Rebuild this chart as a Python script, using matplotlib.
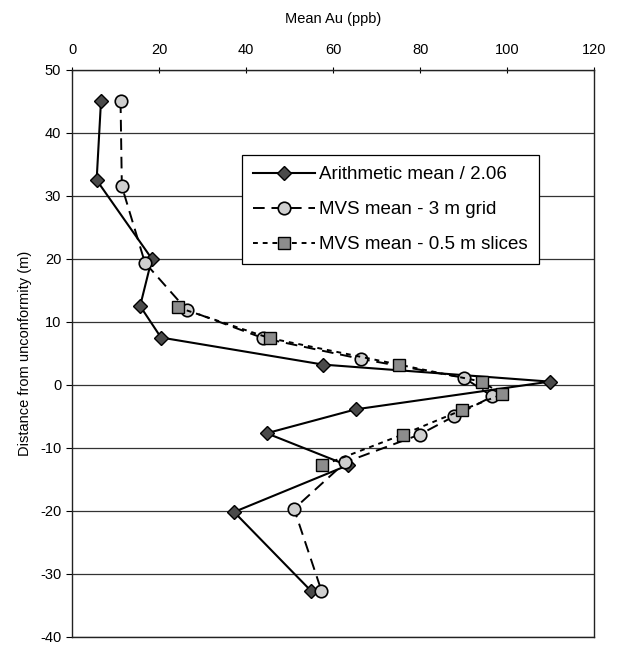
import matplotlib
matplotlib.use("Agg")
import matplotlib.pyplot as plt

plt.rcParams['font.family'] = ['Liberation Sans', 'DejaVu Sans']
plt.rcParams['axes.unicode_minus'] = False

# Arithmetic mean (scaled by 1/2.06)
arith_depth = [45, 32.5, 20, 12.5, 7.5, 3.2, 0.5, -3.9, -7.7, -12.8, -20.2, -32.8]
arith_au = [6.6, 5.6, 18.3, 15.6, 20.4, 57.7, 109.8, 65.2, 44.7, 63.3, 37.2, 55.0]

# MVS mean on a 3 m grid
grid_depth = [45, 31.5, 19.4, 11.9, 7.4, 4.1, 1.1, -1.85, -5.0, -7.9, -12.3, -19.7, -32.7]
grid_au = [11.1, 11.4, 16.7, 26.3, 43.9, 66.4, 90.1, 96.6, 87.8, 79.9, 62.8, 51.0, 57.3]

# MVS mean from 0.5 m slices
slice_depth = [12.3, 7.4, 3.2, 0.5, -1.5, -4.0, -7.9, -12.8]
slice_au = [24.2, 45.4, 75.1, 94.1, 98.9, 89.7, 76.0, 57.5]

fig = plt.figure(figsize=(6.22, 6.53), dpi=100)
ax = fig.add_axes([0.1162, 0.025, 0.839, 0.868])

ax.plot(arith_au, arith_depth, color='black', lw=1.5, ls='-',
        marker='D', markersize=7, markerfacecolor='#4a4a4a',
        markeredgecolor='black', markeredgewidth=1.0,
        label='Arithmetic mean / 2.06', zorder=3)
ax.plot(grid_au, grid_depth, color='black', lw=1.4, ls=(0, (6, 3.5)),
        marker='o', markersize=9, markerfacecolor='#cfcfcf',
        markeredgecolor='black', markeredgewidth=1.2,
        label='MVS mean - 3 m grid', zorder=4)
ax.plot(slice_au, slice_depth, color='black', lw=1.4, ls=(0, (2.5, 2.5)),
        marker='s', markersize=9, markerfacecolor='#8c8c8c',
        markeredgecolor='black', markeredgewidth=1.0,
        label='MVS mean - 0.5 m slices', zorder=5)

ax.set_xlim(0, 120)
ax.set_ylim(-40, 50)
ax.set_xticks(range(0, 121, 20))
ax.set_yticks(range(-40, 51, 10))

ax.xaxis.tick_top()
ax.xaxis.set_label_position('top')
ax.tick_params(axis='x', direction='inout', length=5, width=0.8,
               labelsize=10.5, pad=7)
ax.tick_params(axis='y', direction='out', length=4, width=0.8,
               labelsize=10.5, pad=4)
ax.set_xlabel('Mean Au (ppb)', fontsize=10.5, labelpad=14)
ax.set_ylabel('Distance from unconformity (m)', fontsize=10.5, labelpad=6)

ax.yaxis.grid(True, color='#333333', lw=0.9)
ax.set_axisbelow(True)
for side in ax.spines.values():
    side.set_linewidth(1.0)
    side.set_color('#222222')

leg = ax.legend(loc='upper left', bbox_to_anchor=(0.325, 0.85),
                borderaxespad=0, fontsize=13.5, handlelength=3.3,
                handletextpad=0.2, labelspacing=0.95, borderpad=0.6,
                fancybox=False, framealpha=1, edgecolor='black')
leg.get_frame().set_linewidth(0.9)

fig.savefig('out.png', dpi=100)
